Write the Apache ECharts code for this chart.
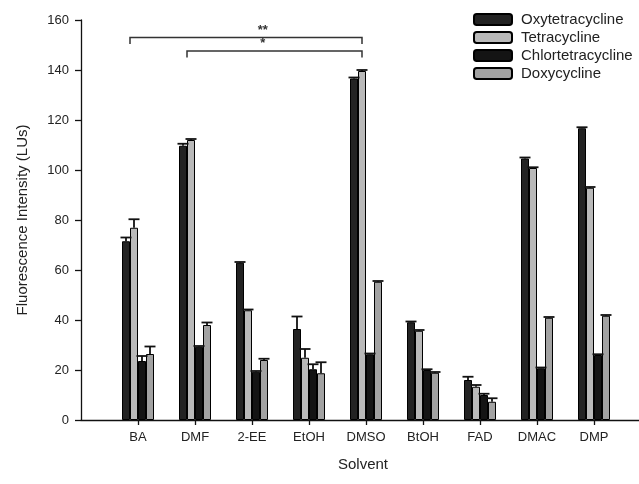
<!DOCTYPE html>
<html>
<head>
<meta charset="utf-8">
<script src="https://cdn.jsdelivr.net/npm/echarts@6/dist/echarts.min.js"></script>
<style>
  html, body { margin: 0; padding: 0; background: #fff; }
  #chart { width: 639px; height: 484px; }
</style>
</head>
<body>
<div id="chart"></div>
<script>
// Solvent categories (padded with blank slots at both ends for the axis)
const solvents = ["BA", "DMF", "2-EE", "EtOH", "DMSO", "BtOH", "FAD", "DMAC", "DMP"];

// Mean fluorescence (LUs) and the upper error per solvent
const oxyMean    = [71.5, 109.7, 62.9, 36.4, 136.6, 39.1, 16.0, 104.6, 116.7];
const oxyErr     = [1.5, 0.8, 0.3, 5.0, 0.4, 0.3, 1.3, 0.4, 0.4];
const tetraMean  = [76.9, 112.0, 43.9, 24.9, 139.6, 35.7, 13.3, 100.8, 92.9];
const tetraErr   = [3.4, 0.4, 0.3, 3.5, 0.4, 0.3, 0.7, 0.3, 0.3];
const chlorMean  = [23.6, 29.3, 19.3, 20.3, 26.3, 20.0, 10.0, 20.7, 26.0];
const chlorErr   = [2.0, 0.3, 0.3, 2.0, 0.3, 0.3, 0.5, 0.3, 0.3];
const doxyMean   = [26.4, 38.0, 24.0, 18.7, 55.3, 18.9, 7.3, 40.9, 41.7];
const doxyErr    = [3.0, 1.0, 0.5, 4.4, 0.3, 0.3, 1.4, 0.3, 0.3];

// significance brackets: [from solvent, to solvent, level (LUs), label]
const brackets = [
  ["BA",  "DMSO", 153.0, "**"],
  ["DMF", "DMSO", 147.6, "*"],
];

const yTicks = { min: 0, max: 160, step: 20 };

const FONT = "'Liberation Sans', Arial, sans-serif";
const axisCats = ["", ...solvents, ""];
const idx = s => axisCats.indexOf(s);

const drugs = [
  { name: "Oxytetracycline",   mean: oxyMean,   err: oxyErr,   color: "#232323" },
  { name: "Tetracycline",      mean: tetraMean, err: tetraErr, color: "#b9b9b9" },
  { name: "Chlortetracycline", mean: chlorMean, err: chlorErr, color: "#141414" },
  { name: "Doxycycline",       mean: doxyMean,  err: doxyErr,  color: "#a2a2a2" },
];

const BAR_W = 8;

const barSeries = drugs.map(d => ({
  name: d.name,
  type: "bar",
  barWidth: BAR_W,
  barGap: "0%",
  itemStyle: { color: d.color, borderColor: "#000", borderWidth: 1 },
  data: d.mean.map((v, i) => [i + 1, v]),
  z: 2,
}));

// upper error bars, drawn over each bar at its offset in the group
const errSeries = drugs.map((d, k) => ({
  type: "custom",
  silent: true,
  z: 3,
  data: d.mean.map((v, i) => [i + 1, v, v + d.err[i]]),
  renderItem: (params, api) => {
    const base = api.coord([api.value(0), api.value(1)]);
    const top  = api.coord([api.value(0), api.value(2)]);
    const x = base[0] + (k - 1.5) * BAR_W;
    const half = 5.5;
    const st = { stroke: "#111", lineWidth: 1.8 };
    return {
      type: "group",
      children: [
        { type: "line", shape: { x1: x, y1: base[1], x2: x, y2: top[1] }, style: st },
        { type: "line", shape: { x1: x - half, y1: top[1], x2: x + half, y2: top[1] }, style: st },
      ],
    };
  },
}));

const bracketSeries = {
  type: "custom",
  silent: true,
  z: 4,
  data: brackets.map(b => [idx(b[0]), idx(b[1]), b[2], b[3]]),
  renderItem: (params, api) => {
    const y = api.value(2);
    const a = api.coord([api.value(0), y]);
    const b = api.coord([api.value(1), y]);
    const drop = api.coord([api.value(0), y - 2.6])[1];
    const x1 = a[0] - 8, x2 = b[0] - 4;
    const c3 = api.coord([3, y])[0], c4 = api.coord([4, y])[0];
    const lx = c3 + 0.19 * (c4 - c3);
    const txt = brackets[params.dataIndex][3];
    return {
      type: "group",
      children: [
        { type: "polyline",
          shape: { points: [[x1, drop], [x1, a[1]], [x2, a[1]], [x2, drop]] },
          style: { stroke: "#333", lineWidth: 1.5, fill: null } },
        { type: "text",
          style: { text: txt, x: lx, y: a[1] - 1, align: "center", verticalAlign: "bottom",
                   font: `bold 13px ${FONT}`, fill: "#333" } },
      ],
    };
  },
};

const chart = echarts.init(document.getElementById("chart"), null, { renderer: "canvas" });

chart.setOption({
  animation: false,
  backgroundColor: "#fff",
  textStyle: { fontFamily: FONT },
  legend: {
    orient: "vertical",
    left: 473, top: 12, padding: 0,
    itemWidth: 38, itemHeight: 11, itemGap: 3,
    data: drugs.map(d => d.name),
    textStyle: { fontSize: 15, color: "#222", fontFamily: FONT, padding: [0, 0, 0, 4] },
  },
  grid: { left: 81, width: 570, top: 20, bottom: 64, containLabel: false, outerBoundsMode: "none" },
  xAxis: {
    type: "category",
    data: axisCats,
    boundaryGap: false,
    name: "Solvent",
    nameLocation: "middle",
    nameGap: 37,
    nameTextStyle: { fontSize: 15, color: "#222", fontFamily: FONT, padding: [0, 6, 0, 0] },
    axisLine: { lineStyle: { color: "#111", width: 1.3 } },
    axisTick: { length: 5, lineStyle: { color: "#111", width: 1.3 },
                interval: (i, v) => v !== "" },
    axisLabel: { interval: 0, fontSize: 13, color: "#222", margin: 11, fontFamily: FONT },
    splitLine: { show: false },
  },
  yAxis: {
    type: "value",
    min: yTicks.min, max: yTicks.max, interval: yTicks.step,
    name: "Fluorescence Intensity (LUs)",
    nameLocation: "middle",
    nameGap: 51,
    nameTextStyle: { fontSize: 15, color: "#222", fontFamily: FONT },
    axisLine: { show: true, lineStyle: { color: "#111", width: 1.3 } },
    axisTick: { show: true, length: 6, lineStyle: { color: "#111", width: 1.3 } },
    axisLabel: { fontSize: 13, color: "#222", margin: 12, fontFamily: FONT },
    splitLine: { show: false },
  },
  series: [...barSeries, ...errSeries, bracketSeries],
});
</script>
</body>
</html>
